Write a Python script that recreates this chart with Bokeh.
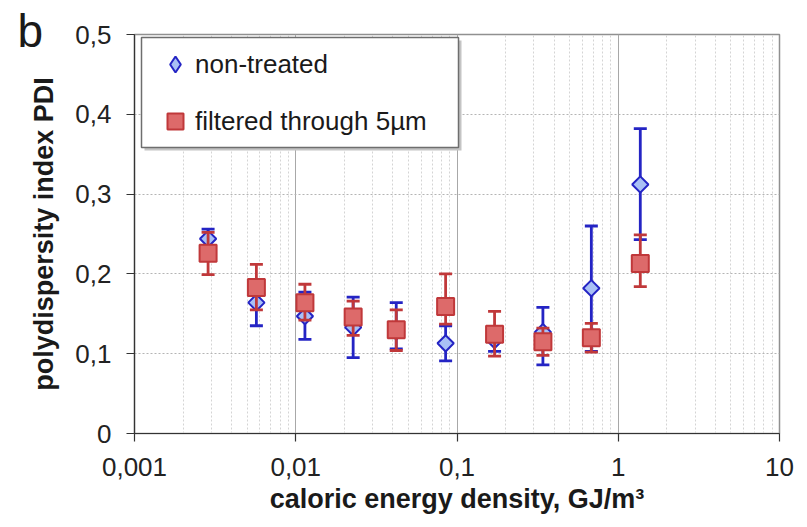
from bokeh.plotting import figure
from bokeh.models import (Range1d, FixedTicker, Legend, LegendItem, Label,
                          ColumnDataSource, BoxAnnotation)
from bokeh.embed import file_html
from bokeh.resources import INLINE

# ---- data ----
energy = [0.00286, 0.0057, 0.0114, 0.0227, 0.042, 0.085, 0.171, 0.341, 0.681, 1.37]

nt_pdi = [0.244, 0.164, 0.147, 0.133, 0.128, 0.113, 0.117, 0.127, 0.182, 0.312]
nt_upper = [0.256, 0.190, 0.177, 0.171, 0.164, 0.135, 0.130, 0.158, 0.260, 0.382]
nt_lower = [0.232, 0.135, 0.118, 0.095, 0.106, 0.091, 0.103, 0.086, 0.103, 0.243]

f_pdi = [0.226, 0.183, 0.164, 0.146, 0.130, 0.159, 0.1245, 0.115, 0.120, 0.213]
f_upper = [0.252, 0.212, 0.187, 0.166, 0.155, 0.200, 0.153, 0.132, 0.138, 0.249]
f_lower = [0.199, 0.155, 0.142, 0.123, 0.104, 0.137, 0.097, 0.098, 0.102, 0.184]

x_ticks = [0.001, 0.01, 0.1, 1, 10]
x_tick_labels = ["0,001", "0,01", "0,1", "1", "10"]
y_ticks = [0, 0.1, 0.2, 0.3, 0.4, 0.5]
y_tick_labels = ["0", "0,1", "0,2", "0,3", "0,4", "0,5"]
x_minor = [m * 10.0 ** e for e in range(-3, 1) for m in range(2, 10)]

FONT = "Liberation Sans"

nt_src = ColumnDataSource(dict(x=energy, y=nt_pdi, up=nt_upper, lo=nt_lower))
f_src = ColumnDataSource(dict(x=energy, y=f_pdi, up=f_upper, lo=f_lower))

p = figure(width=807, height=527, x_axis_type="log",
           x_range=Range1d(0.001, 10), y_range=Range1d(0, 0.5),
           output_backend="svg", toolbar_location=None,
           min_border_left=131, min_border_right=28,
           min_border_top=34, min_border_bottom=94)

p.background_fill_color = "white"
p.border_fill_color = "white"
p.outline_line_color = "#909090"
p.outline_line_width = 1.5

# axes
p.xaxis.ticker = FixedTicker(ticks=x_ticks, minor_ticks=x_minor)
p.yaxis.ticker = FixedTicker(ticks=y_ticks)
p.xaxis.major_label_overrides = dict(zip(x_ticks, x_tick_labels))
p.yaxis.major_label_overrides = dict(zip(y_ticks, y_tick_labels))
for ax in (p.xaxis[0], p.yaxis[0]):
    ax.axis_line_color = "#333333"
    ax.axis_line_width = 1.2
    ax.major_tick_line_color = "#333333"
    ax.major_tick_line_width = 1.2
    ax.major_tick_in = 0
    ax.major_tick_out = 8
    ax.minor_tick_line_color = None
    ax.major_label_text_font = FONT
    ax.major_label_text_font_size = "26px"
    ax.major_label_text_color = "#222222"
    ax.axis_label_text_font = FONT
    ax.axis_label_text_font_size = "27px"
    ax.axis_label_text_font_style = "bold"
    ax.axis_label_text_color = "#1a1a1a"

p.xaxis.axis_label = "caloric energy density, GJ/m³"
p.yaxis.axis_label = "polydispersity index PDI"
p.xaxis.major_label_standoff = 16
p.xaxis.axis_label_standoff = 5
p.yaxis.major_label_standoff = 15
p.yaxis.axis_label_standoff = 13

# grids
p.xgrid.grid_line_color = "#a8a8a8"
p.xgrid.grid_line_width = 1
p.xgrid.minor_grid_line_color = "#d4d4d4"
p.xgrid.minor_grid_line_dash = "2 2"
p.xgrid.minor_grid_line_width = 1
p.ygrid.grid_line_color = "#b4b4b4"
p.ygrid.grid_line_dash = "2 2"
p.ygrid.grid_line_width = 1

BLUE_LINE = "#2424c4"
BLUE_FILL = "#a9c0f5"
RED_LINE = "#c0383a"
RED_FILL = "#dd6a6a"

# non-treated error bars + markers
p.segment(x0="x", y0="lo", x1="x", y1="up", source=nt_src, line_color=BLUE_LINE, line_width=2.8)
p.scatter(x="x", y="up", source=nt_src, marker="dash", size=13, line_color=BLUE_LINE, line_width=2.8)
p.scatter(x="x", y="lo", source=nt_src, marker="dash", size=13, line_color=BLUE_LINE, line_width=2.8)
p.scatter(x="x", y="y", source=nt_src, marker="square", angle=0.785398, size=11.5,
          fill_color=BLUE_FILL, line_color=BLUE_LINE, line_width=2)
# legend stand-in for the diamond (legend glyphs ignore the marker angle)
nt_leg = p.scatter(x="x", y="y", source=nt_src, marker="diamond", size=16,
                   fill_color=BLUE_FILL, line_color=BLUE_LINE, line_width=2, visible=False)

# filtered error bars + markers
p.segment(x0="x", y0="lo", x1="x", y1="up", source=f_src, line_color=RED_LINE, line_width=2.8)
p.scatter(x="x", y="up", source=f_src, marker="dash", size=13, line_color=RED_LINE, line_width=2.8)
p.scatter(x="x", y="lo", source=f_src, marker="dash", size=13, line_color=RED_LINE, line_width=2.8)
f_r = p.scatter(x="x", y="y", source=f_src, marker="square", size=17,
                fill_color=RED_FILL, line_color=RED_LINE, line_width=2)

# legend frame (with a light drop shadow)
p.add_layout(BoxAnnotation(left=10, right=327, top=393, bottom=283,
                           left_units="screen", right_units="screen",
                           top_units="screen", bottom_units="screen",
                           fill_color="#c4c4c4", fill_alpha=1.0, line_color=None))
p.add_layout(BoxAnnotation(left=7, right=324, top=396, bottom=286,
                           left_units="screen", right_units="screen",
                           top_units="screen", bottom_units="screen",
                           fill_color="white", fill_alpha=1.0,
                           line_color="#6e6e6e", line_width=1.5, line_alpha=1.0))

legend = Legend(items=[LegendItem(label="non-treated", renderers=[nt_leg]),
                       LegendItem(label="filtered through 5µm", renderers=[f_r])],
                location=(21, 292), orientation="vertical",
                padding=0, spacing=17, glyph_width=40, glyph_height=40,
                label_height=30, label_standoff=0,
                label_text_font=FONT, label_text_font_size="26px", label_text_color="#1a1a1a",
                border_line_color=None, background_fill_alpha=0.0)
p.add_layout(legend)

# panel letter, placed in a side panel so it is not clipped to the frame
p.add_layout(Label(x=17, y=30, x_units="canvas", y_units="canvas", text="b",
                   text_font=FONT, text_font_size="46px", text_baseline="alphabetic",
                   text_color="#1a1a1a"), "left")

open("out.html", "w").write(file_html(p, INLINE))
